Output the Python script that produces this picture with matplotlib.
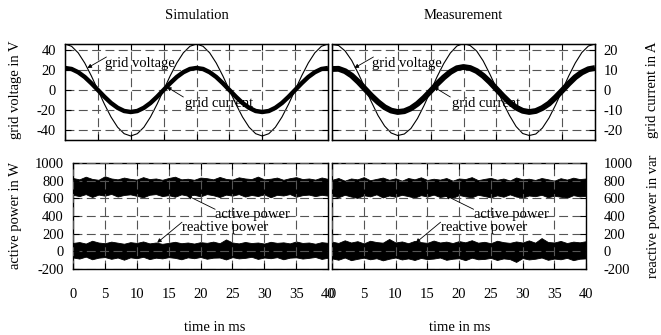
import matplotlib
matplotlib.use("Agg")
import matplotlib.pyplot as plt
import numpy as np

plt.rcParams['font.family'] = ['Liberation Serif', 'DejaVu Serif']
plt.rcParams['font.size'] = 10.5
plt.rcParams['axes.unicode_minus'] = False

# time axis in ms, one sample per ms
t_ms = list(range(0, 41))

# grid voltage in V
v_sim = [46, 43.7, 37.2, 27.0, 14.2, 0, -14.2, -27.0, -37.2, -43.7, -46,
         -43.7, -37.2, -27.0, -14.2, 0, 14.2, 27.0, 37.2, 43.7, 46,
         43.7, 37.2, 27.0, 14.2, 0, -14.2, -27.0, -37.2, -43.7, -46,
         -43.7, -37.2, -27.0, -14.2, 0, 14.2, 27.0, 37.2, 43.7, 46]
v_meas = [45.5, 44.5, 39.0, 29.5, 16.5, 2.5, -12.0, -25.5, -36.0, -43.0, -45.5,
          -44.0, -38.5, -28.5, -15.5, -1.0, 13.5, 26.5, 37.0, 44.0, 46.5,
          44.5, 39.0, 29.0, 16.0, 2.0, -12.5, -25.5, -36.5, -43.5, -45.5,
          -44.0, -38.0, -28.0, -15.0, -0.5, 14.0, 27.0, 37.5, 44.0, 46.0]

# grid current in A
i_sim = [11, 10.5, 8.9, 6.5, 3.4, 0, -3.4, -6.5, -8.9, -10.5, -11,
         -10.5, -8.9, -6.5, -3.4, 0, 3.4, 6.5, 8.9, 10.5, 11,
         10.5, 8.9, 6.5, 3.4, 0, -3.4, -6.5, -8.9, -10.5, -11,
         -10.5, -8.9, -6.5, -3.4, 0, 3.4, 6.5, 8.9, 10.5, 11]
i_meas = [10.5, 10.6, 9.4, 7.2, 4.1, 0.6, -2.9, -6.0, -8.6, -10.3, -11.0,
          -10.6, -9.2, -6.9, -3.9, -0.5, 3.1, 6.3, 9.0, 10.9, 11.5,
          11.0, 9.5, 7.1, 4.0, 0.5, -3.0, -6.2, -8.8, -10.4, -11.0,
          -10.5, -9.0, -6.8, -3.7, -0.3, 3.2, 6.4, 8.8, 10.4, 11.0]

# active / reactive power bands (upper and lower edge of the noisy trace)
p_sim_hi = [830, 815, 845, 820, 810, 850, 825, 815, 835, 820, 812, 840, 818, 825,
            810, 830, 845, 815, 822, 810, 835, 828, 815, 842, 820, 812, 838, 825,
            818, 846, 815, 822, 835, 810, 828, 840, 818, 825, 812, 836, 820]
p_sim_lo = [640, 625, 648, 615, 642, 630, 650, 620, 638, 645, 628, 612, 640, 648,
            625, 636, 618, 645, 630, 640, 622, 648, 635, 615, 642, 630, 648, 620,
            638, 626, 645, 612, 640, 632, 648, 618, 636, 642, 625, 640, 630]
q_sim_hi = [95, 105, 88, 120, 100, 92, 110, 98, 86, 104, 95, 112, 90, 100, 85,
            96, 108, 92, 100, 88, 104, 96, 110, 92, 135, 100, 90, 106, 94, 100,
            88, 108, 96, 102, 90, 112, 95, 100, 86, 104, 96]
q_sim_lo = [-70, -82, -60, -90, -72, -65, -85, -70, -95, -68, -78, -62, -88, -72,
            -80, -66, -74, -90, -68, -78, -64, -84, -72, -70, -92, -66, -80, -74,
            -62, -86, -70, -78, -66, -90, -72, -68, -82, -74, -64, -86, -72]
p_meas_hi = [810, 830, 800, 825, 815, 840, 805, 820, 835, 810, 826, 800, 830, 815,
             838, 808, 822, 812, 830, 800, 825, 818, 840, 806, 820, 832, 810, 824,
             802, 836, 815, 822, 808, 830, 816, 800, 828, 812, 834, 818, 825]
p_meas_lo = [630, 612, 640, 620, 605, 635, 622, 645, 610, 632, 618, 640, 625, 608,
             636, 620, 642, 615, 628, 605, 638, 622, 612, 640, 626, 610, 634, 618,
             645, 620, 608, 632, 624, 640, 612, 630, 618, 606, 636, 622, 628]
q_meas_hi = [110, 95, 125, 100, 115, 90, 120, 105, 98, 140, 100, 112, 92, 118, 104,
             96, 122, 100, 110, 94, 116, 102, 126, 98, 108, 92, 120, 104, 96, 112,
             100, 124, 98, 150, 106, 100, 118, 94, 110, 102, 115]
q_meas_lo = [-80, -95, -70, -100, -85, -72, -90, -78, -102, -84, -70, -92, -80, -98,
             -75, -88, -82, -70, -96, -84, -78, -100, -72, -90, -86, -74, -98, -80,
             -88, -120, -76, -92, -84, -70, -96, -82, -90, -74, -100, -84, -80]

x_ticks = [0, 5, 10, 15, 20, 25, 30, 35, 40]
v_ticks = [-40, -20, 0, 20, 40]
i_ticks = [-20, -10, 0, 10, 20]
p_ticks = [-200, 0, 200, 400, 600, 800, 1000]

W, H = 661, 335
fig = plt.figure(figsize=(W / 100, H / 100), dpi=100)


def px_axes(x0, y0, x1, y1):
    return fig.add_axes([x0 / W, 1 - y1 / H, (x1 - x0) / W, (y1 - y0) / H])


grid_kw = dict(color='#555555', linestyle=(0, (8, 4)), linewidth=0.8)


def style(ax, yticks, ylim):
    ax.set_xlim(0, 40)
    ax.set_ylim(*ylim)
    ax.set_xticks(x_ticks)
    ax.set_yticks(yticks)
    ax.grid(True, **grid_kw)
    ax.set_axisbelow(False)
    ax.tick_params(direction='in', length=4, width=0.8, top=True, right=True,
                   labelsize=10.5)
    for s in ax.spines.values():
        s.set_linewidth(1.0)


arrow_kw = dict(arrowstyle='-|>', color='k', lw=0.6, mutation_scale=6,
                shrinkA=0, shrinkB=0)


def label(ax, text, tail, head, pos):
    ax.annotate('', xy=head, xytext=tail, arrowprops=arrow_kw, zorder=5)
    ax.text(pos[0], pos[1], text, ha='left', va='center', fontsize=10.5, zorder=5)


# ---- top row: voltage and current
ax_tl = px_axes(65, 44, 328, 140)
ax_tr = px_axes(332, 44, 595, 140)
for ax, v, i, lw_i in [(ax_tl, v_sim, i_sim, 3.2), (ax_tr, v_meas, i_meas, 4.2)]:
    style(ax, v_ticks, (-50, 46))
    ax.plot(t_ms, v, color='k', lw=0.8)
    ax.set_xticklabels([])
    ax2 = ax.twinx()
    ax2.set_ylim(-25, 23)
    ax2.set_yticks(i_ticks)
    ax2.plot(t_ms, i, color='k', lw=lw_i, solid_capstyle='butt')
    ax2.tick_params(direction='in', length=4, width=0.8, labelsize=10.5, pad=6)
    if ax is ax_tl:
        ax2.set_yticklabels([])
        ax.tick_params(pad=6.5)
        ax.set_ylabel('grid voltage in V', va='center')
        ax.yaxis.set_label_coords(-0.19, 0.52)
    else:
        ax.set_yticklabels([])
        ax2.set_ylabel('grid current in A', va='center')
        ax2.yaxis.set_label_coords(1.22, 0.52)
    label(ax, 'grid voltage', (6.3, 33), (3.4, 22), (6.1, 27))
    label(ax, 'grid current', (18.0, -7), (15.5, 3), (18.25, -13))

ax_tl.set_title('Simulation', fontsize=10.5, pad=18)
ax_tr.set_title('Measurement', fontsize=10.5, pad=18)

# ---- bottom row: active and reactive power
ax_bl = px_axes(73, 163, 328, 269)
ax_br = px_axes(332, 163, 586, 269)
for ax, phi, plo, qhi, qlo in [(ax_bl, p_sim_hi, p_sim_lo, q_sim_hi, q_sim_lo),
                               (ax_br, p_meas_hi, p_meas_lo, q_meas_hi, q_meas_lo)]:
    style(ax, p_ticks, (-200, 1000))
    ax.fill_between(t_ms, plo, phi, color='k', lw=0.6)
    ax.fill_between(t_ms, qlo, qhi, color='k', lw=0.6)
    ax.tick_params(axis='x', pad=13.5)
    ax.set_xlabel('time in ms', va='center')
    label(ax, 'active power', (22.3, 476), (17.9, 632), (22.3, 418))
    label(ax, 'reactive power', (17.1, 330), (13.2, 97), (17.1, 269))

ax_bl.tick_params(axis='y', pad=6.5)
ax_bl.set_ylabel('active power in W', va='center')
ax_bl.yaxis.set_label_coords(-0.227, 0.5)
ax_bl.xaxis.set_label_coords(0.557, -0.55)

ax_br.yaxis.tick_right()
ax_br.tick_params(axis='y', left=True, pad=12.5)
ax_br.yaxis.set_label_position('right')
ax_br.set_ylabel('reactive power in var', va='center')
ax_br.yaxis.set_label_coords(1.264, 0.5)
ax_br.xaxis.set_label_coords(0.504, -0.55)

fig.savefig('out.png', dpi=100)
